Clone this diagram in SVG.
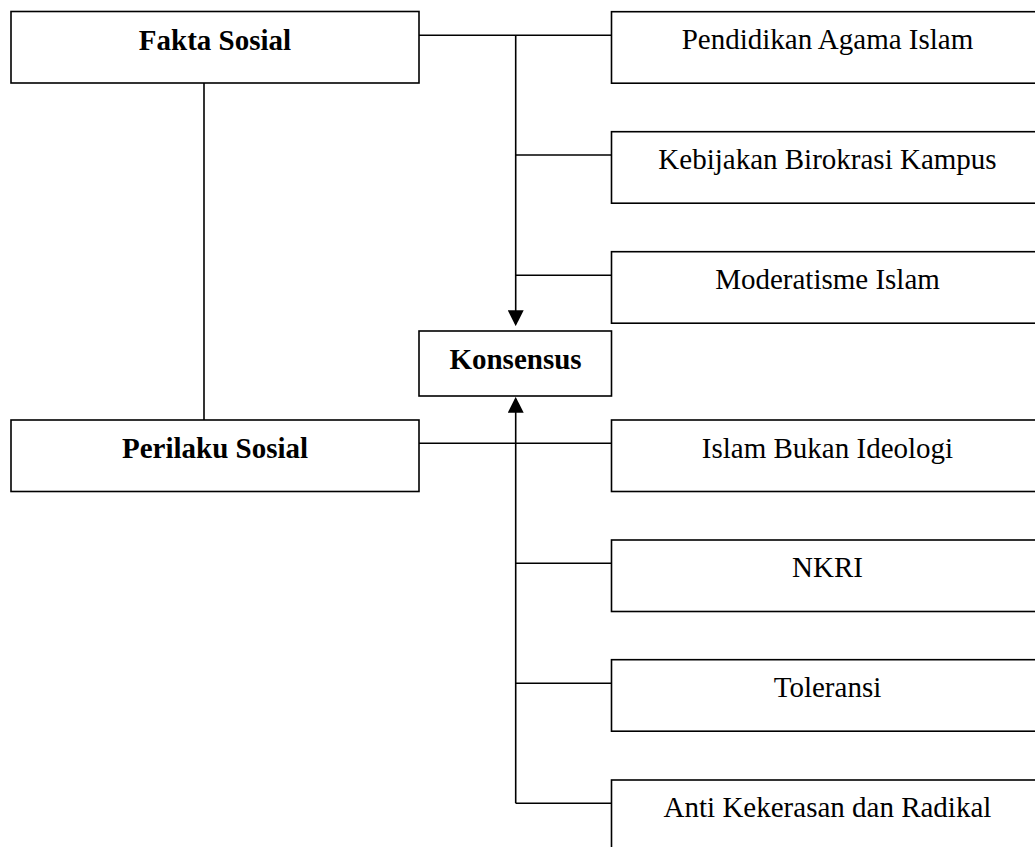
<svg xmlns="http://www.w3.org/2000/svg" width="1035" height="847" viewBox="0 0 1035 847">
<style>
.box{fill:#fff;stroke:#000;stroke-width:1.6}
.t{font-family:"Liberation Serif","Times New Roman",serif;font-size:29px;fill:#000;text-anchor:middle}
.b{font-weight:bold}
.ln{stroke:#000;stroke-width:1.6;fill:none}
</style>
<defs>
<marker id="arr" markerUnits="userSpaceOnUse" markerWidth="16" markerHeight="16" viewBox="0 0 15 15" refX="13" refY="7.5" orient="auto">
<path d="M0,0 L15,7.5 L0,15 z" fill="#000"/>
</marker>
</defs>
<rect width="1035" height="847" fill="#fff"/>
<g id="connectors">
<line class="ln" x1="419" y1="35.3" x2="611.5" y2="35.3"/>
<line class="ln" x1="515.7" y1="35.3" x2="515.7" y2="324" marker-end="url(#arr)"/>
<line class="ln" x1="515.7" y1="155" x2="611.5" y2="155"/>
<line class="ln" x1="515.7" y1="275.3" x2="611.5" y2="275.3"/>
<line class="ln" x1="204" y1="83" x2="204" y2="420"/>
<line class="ln" x1="419" y1="443.3" x2="611.5" y2="443.3"/>
<line class="ln" x1="515.7" y1="803.3" x2="515.7" y2="399" marker-end="url(#arr)"/>
<line class="ln" x1="515.7" y1="563.3" x2="611.5" y2="563.3"/>
<line class="ln" x1="515.7" y1="683.3" x2="611.5" y2="683.3"/>
<line class="ln" x1="515.7" y1="803.3" x2="611.5" y2="803.3"/>
</g>
<g id="fakta-sosial">
<rect class="box" x="11" y="11.5" width="408" height="71.5"/>
<text class="t b" x="215" y="50">Fakta Sosial</text>
</g>
<g id="perilaku-sosial">
<rect class="box" x="11" y="420" width="408" height="71.5"/>
<text class="t b" x="215" y="458.3">Perilaku Sosial</text>
</g>
<g id="konsensus">
<rect class="box" x="419" y="331" width="192.5" height="65"/>
<text class="t b" x="515.5" y="369.3">Konsensus</text>
</g>
<g id="pendidikan-agama-islam">
<rect class="box" x="611.5" y="11.7" width="432" height="71.5"/>
<text class="t" x="827.5" y="49.3">Pendidikan Agama Islam</text>
</g>
<g id="kebijakan-birokrasi-kampus">
<rect class="box" x="611.5" y="131.7" width="432" height="71.5"/>
<text class="t" x="827.5" y="168.5">Kebijakan Birokrasi Kampus</text>
</g>
<g id="moderatisme-islam">
<rect class="box" x="611.5" y="251.7" width="432" height="71.5"/>
<text class="t" x="827.5" y="288.5">Moderatisme Islam</text>
</g>
<g id="islam-bukan-ideologi">
<rect class="box" x="611.5" y="420" width="432" height="71.5"/>
<text class="t" x="827.5" y="457.5">Islam Bukan Ideologi</text>
</g>
<g id="nkri">
<rect class="box" x="611.5" y="540" width="432" height="71.5"/>
<text class="t" x="827.5" y="576.8">NKRI</text>
</g>
<g id="toleransi">
<rect class="box" x="611.5" y="659.7" width="432" height="71.5"/>
<text class="t" x="827.5" y="696.8">Toleransi</text>
</g>
<g id="anti-kekerasan-dan-radikal">
<rect class="box" x="611.5" y="780" width="432" height="71.5"/>
<text class="t" x="827.5" y="816.8">Anti Kekerasan dan Radikal</text>
</g>
</svg>
